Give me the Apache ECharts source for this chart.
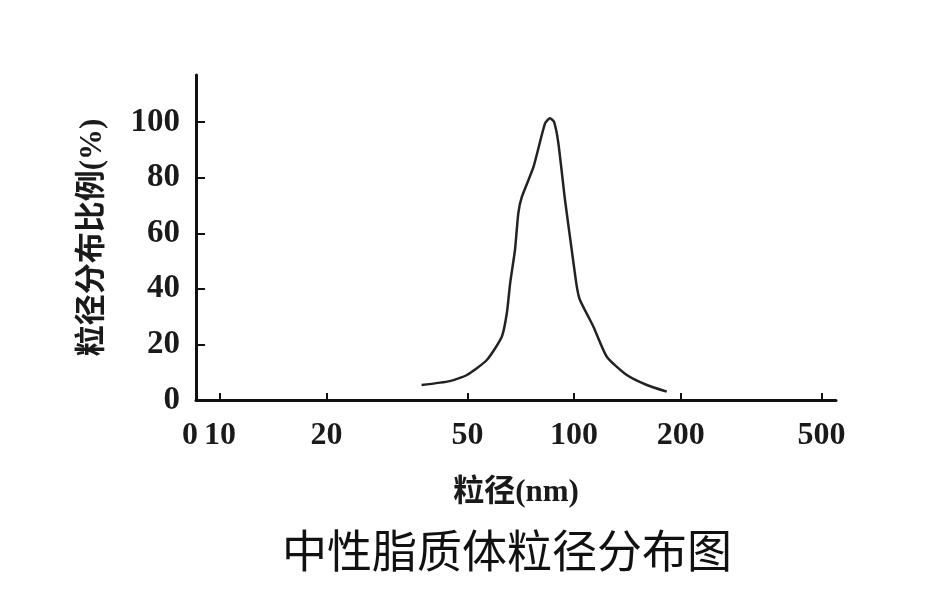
<!DOCTYPE html>
<html>
<head>
<meta charset="utf-8">
<script src="https://cdn.jsdelivr.net/npm/echarts@6/dist/echarts.min.js"></script>
<style>
html,body{margin:0;padding:0;background:#fff;}
#chart{width:950px;height:600px;}
</style>
</head>
<body>
<div id="chart"></div>
<script>
// Particle size (nm)
const sizes = [37.1, 44.6, 49.8, 56.7, 62.5, 64.6, 66.0, 68.1, 69.6, 71.2, 76.8, 82.8, 85.5, 87.8, 90.3, 94.3, 98.5, 101.8, 103.9, 113.4, 123.7, 140.9, 160.5, 182.7];
// Distribution ratio (%)
const ratios = [5.4, 6.8, 9.0, 14.4, 22.8, 31.3, 42.1, 54.0, 67.3, 73.1, 83.9, 99.6, 101.4, 100.1, 92.4, 71.9, 54.0, 40.8, 36.0, 26.4, 15.6, 9.0, 5.4, 3.0];
// Axis tick labels
const xTicks = [10, 20, 50, 100, 200, 500];
const yTicks = [0, 20, 40, 60, 80, 100];
const xMin = 8.56, xMax = 549;
const yMax = 117;
const titleText = '中性脂质体粒径分布图';
const xName = '粒径(nm)';
const yName = '粒径分布比例(%)';

const chart = echarts.init(document.getElementById('chart'), null, {renderer: 'canvas'});
const serif = "'Liberation Serif', 'Noto Sans CJK SC', serif";
const option = {
  backgroundColor: '#ffffff',
  animation: false,
  title: {
    text: titleText,
    left: 502,
    top: 523,
    textAlign: 'center',
    textStyle: {fontFamily: "'Noto Sans CJK SC', sans-serif", fontSize: 45, fontWeight: 'normal', color: '#111'}
  },
  grid: {left: 196, right: 114, top: 75, bottom: 200, outerBoundsMode: 'none'},
  xAxis: {
    type: 'log',
    logBase: 10,
    min: xMin,
    max: xMax,
    name: xName,
    nameLocation: 'middle',
    nameGap: 77,
    nameTextStyle: {fontFamily: serif, fontSize: 31, fontWeight: 'bold', color: '#1a1a1a'},
    axisLine: {show: true, onZero: false, lineStyle: {color: '#111', width: 3}},
    axisTick: {show: true, inside: true, length: 7, customValues: xTicks, lineStyle: {color: '#111', width: 2}},
    axisLabel: {
      customValues: [xMin].concat(xTicks),
      margin: 20,
      fontFamily: serif,
      fontSize: 32,
      fontWeight: 'bold',
      color: '#1a1a1a',
      formatter: function (v) { return v < 9.5 ? '{z|0}' : String(Math.round(v)); },
      rich: {z: {fontFamily: serif, fontSize: 32, fontWeight: 'bold', color: '#1a1a1a', padding: [0, 12, 0, 0]}}
    },
    splitLine: {show: false},
    minorTick: {show: false},
    minorSplitLine: {show: false}
  },
  yAxis: {
    type: 'value',
    min: 0,
    max: yMax,
    name: yName,
    nameLocation: 'middle',
    nameGap: 88,
    nameRotate: 90,
    nameTextStyle: {fontFamily: serif, fontSize: 31, fontWeight: 'bold', color: '#1a1a1a'},
    axisLine: {show: true, lineStyle: {color: '#111', width: 3}},
    axisTick: {show: true, inside: true, length: 9, customValues: yTicks.slice(1), lineStyle: {color: '#111', width: 2}},
    axisLabel: {
      customValues: yTicks,
      margin: 16,
      fontFamily: serif,
      fontSize: 33,
      fontWeight: 'bold',
      color: '#1a1a1a'
    },
    splitLine: {show: false}
  },
  series: [{
    type: 'line',
    data: sizes.map((s, i) => [s, ratios[i]]),
    showSymbol: false,
    smooth: 0.2,
    lineStyle: {color: '#222', width: 2.5},
    z: 3
  }]
};
chart.setOption(option);
</script>
</body>
</html>
